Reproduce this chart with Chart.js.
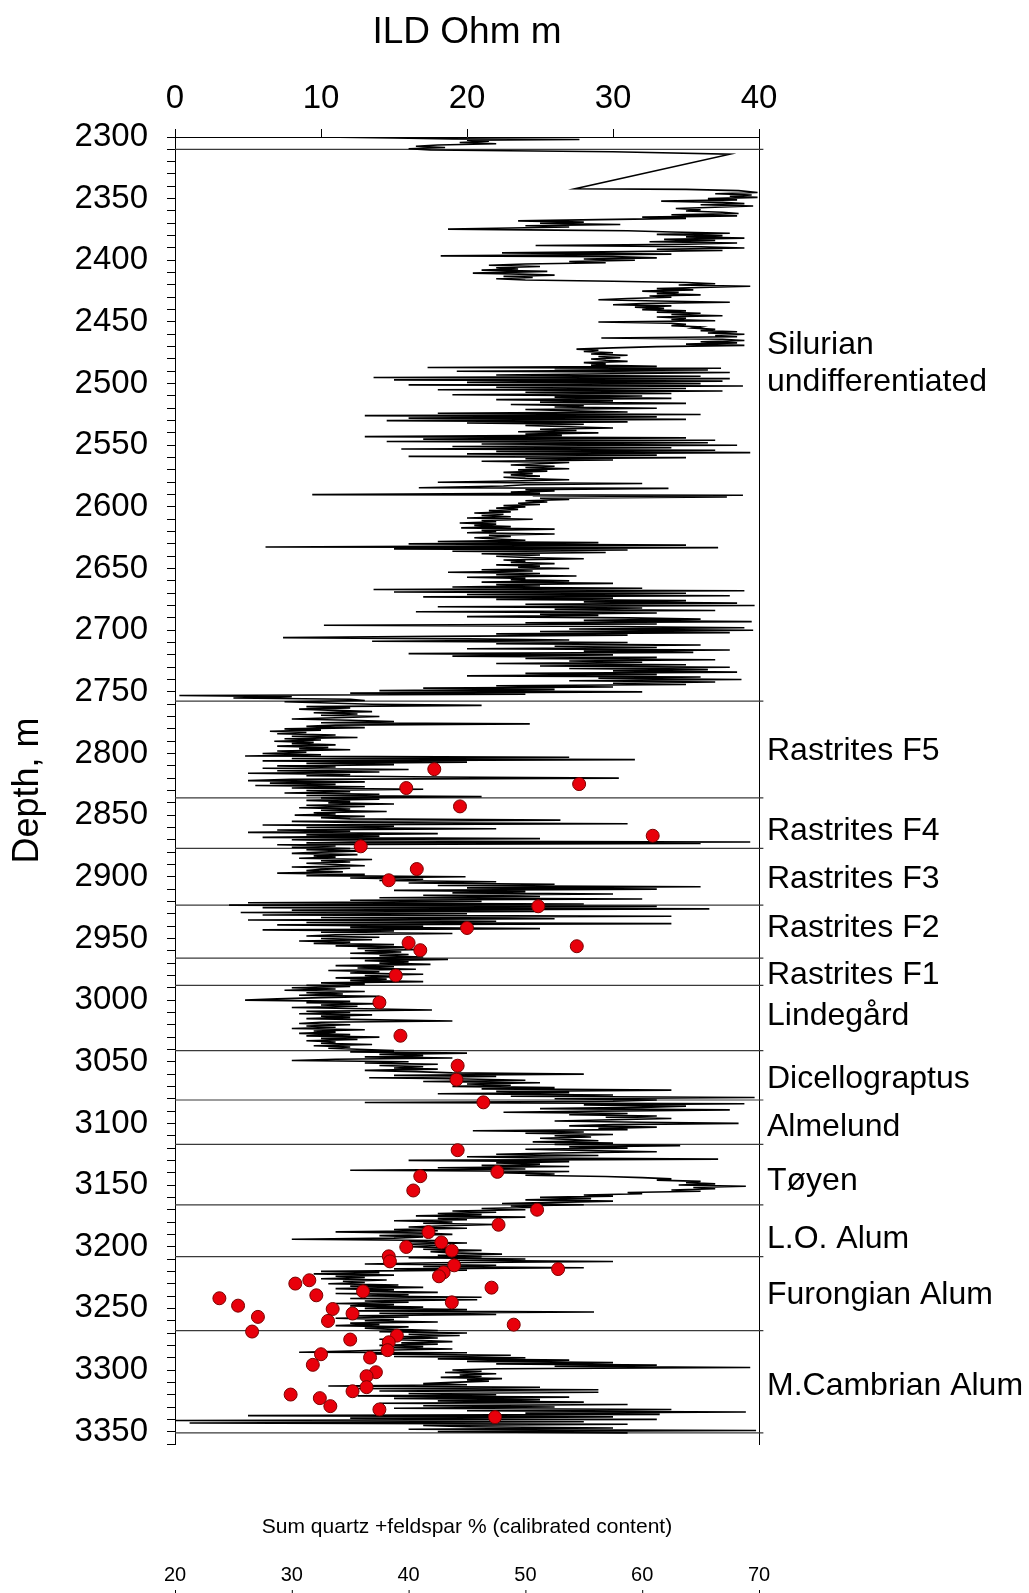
<!DOCTYPE html>
<html>
<head>
<meta charset="utf-8">
<title>ILD log and quartz + feldspar</title>
<script src="https://cdn.jsdelivr.net/npm/chart.js@4.4.1/dist/chart.umd.min.js"></script>
<style>
  html, body { margin: 0; padding: 0; background: #fff; }
  canvas { display: block; }
</style>
</head>
<body>
<canvas id="logChart" width="1029" height="1593"></canvas>
<script>
// ILD resistivity log, [depth m, ILD Ohm m]
const ildSilurian = [
  [2300,10],[2300.8,15],[2301.5,19],[2302,27.7],[2302.5,20],[2303.5,21.5],[2304.5,19.5],[2305.5,22],[2306.5,18],[2307.5,16.5],[2308.5,18.5],[2309.5,16],[2310.5,17.5],[2312,30],[2314,38],[2342,27.4],[2342.5,35],
  [2343.5,38.6],[2345,39.9],[2346,37],[2347,39.5],[2348,38],[2349,39.9],[2350,36.5],[2351,38.5],[2352,33.3],[2353,37.5],[2354,39],[2355,36],[2356,39.6],[2357,37],[2358,34.3],[2359,36],[2360,35],[2361,37.5],[2362,38.6],
  [2363,34],[2364,38.5],[2365,32],[2366,35],[2367,29],[2368,23.5],[2369,28],[2370,25],[2371,30.5],[2372,24],[2373,27],[2374,22],[2374.7,18.7],[2375.5,26],[2376,31],
  [2377,34],[2378,38],[2379,33],[2380,37.5],[2381,35],[2382,39],[2383,33.5],[2384,37],[2385,32.5],[2386,38.5],[2387,35],[2388,24.7],[2389,36],[2390,39],[2391,33],[2392,37.5],[2393,31],[2394,22.4],[2395,34],[2396.4,18.2],[2397,30],
  [2398,33],[2399,28],[2400,31.5],[2401,27],[2402,29.5],[2403,24],[2404,21.5],[2405,25],[2406,22],[2407,23.5],[2408,21],[2409,25.5],[2410.4,20.4],[2411,23],[2412,26],[2413,22.5],[2414,24.5],[2415,22],[2416,24],[2417,30],
  [2418,35],[2419,37],[2420,34.5],[2421,39.4],[2422,36],[2423,33],[2424,35.5],[2425,32],[2426,34.5],[2427,33],[2428,36],[2429,32.5],[2430,34],[2431,31],[2432,29],[2433,33],
  [2434,38],[2435,32],[2436,30],[2437,34],[2438,31.5],[2439,33.5],[2440,32],[2441,35],[2442,33],[2443,36],[2444,34],[2445,37.5],[2446,33],[2447,35],[2448,34],[2449,37],[2450,29],[2451,34],
  [2452,35],[2453,34],[2454,36],[2455,35.5],[2456,37],[2457,36],[2458,38.5],[2459,36.5],[2460,39],[2461,37],[2462,38.5],[2463,29.2],[2464,37.5],[2465,39],[2466,36],[2467,38.5],[2468,35],[2469,39],[2470,33],
  [2471,30],[2472,27.5],[2473,29],[2474,28],[2475,30],[2476,28.5],[2477,31],[2478,29],[2479,30.5],[2480,28.5],[2481,29.5],[2482,31],[2483,28],[2484,29.5],[2485,28.5],
  [2486,33],[2487,17.3],[2487.5,37.4],[2488,26],[2489,36.5],[2490,19.3],[2491,38],[2492,30],[2493,22],[2494,36],[2495,13.6],[2496,38],[2497,15],[2498,37.5],[2499,20],[2500,36],[2501,16],[2502,38.9],[2503,22],[2504,35],[2505,18],[2506,37.5],[2507,24],[2508,34],[2509,19],[2510,32],
  [2511,26],[2512,34],[2513,22],[2514,30],[2515,25],[2516,35],[2517,23],[2518,28],[2519,26],[2520,33],[2521,24],[2522,27],[2523,31],[2524,18],[2525,36],[2526,13],[2527,33],[2528,16],[2529,35],[2530,14.5],[2531,31],[2532,20],
  [2533,28],[2534,24],[2535,27],[2536,30],[2537,25],[2538,27.5],[2539,23.5],[2540,29],[2541,24],[2542,26.5],
  [2543,13],[2544,35],[2545,17],[2546,37],[2547,14.5],[2548,36.5],[2549,21],[2550,38.5],[2551,19],[2552,34],[2553,15.5],[2554,37],[2555,22],[2556,39.4],[2557,20],[2558,33],[2559,16],[2560,35],[2561,24],[2562,30],[2563,21],[2564,27],
  [2565,25],[2566,23],[2567,26],[2568,24],[2569,27],[2570,23.5],[2571,25.5],[2572,22.5],[2573,24.5],[2574,23],[2575,25],[2576,22.5],[2577,24],[2578,27],[2579,23],[2580,18],[2581,32],[2582,24],
  [2583,22.5],[2584.5,16.7],[2585,33.8],[2586,24],[2587,26],[2588,23],[2589,25],[2590,9.4],[2590.5,38.9],[2591,24.5],[2592,37.8],[2593,25],
  [2594,27],[2595,24],[2596,25.5],[2597,23.5],[2598,25],[2599,22.5],[2600,24],[2601,22],[2602,23.5],[2603,21.5],[2604,23],[2605,20.5],[2606,22.5],[2607,21],[2608,23],[2609,20],[2610,24.5],[2611,21],[2612,22],[2613,19.5],[2614,22],[2615,20.5],[2616,23],[2617,19.6],[2618,26],[2619,21],[2620,22],[2621,20],[2622,26],[2623,21.5],[2624,23],[2625,20.5],[2626,22],
  [2627,24],[2628,18],[2629,29],[2630,16],[2631,35],[2632.5,6.2],[2633,37.2],[2634,15],[2635,31],[2636,19],[2637,29.5],[2638,21],[2639,25],[2640,22],
  [2641,24],[2642,28],[2643,22.5],[2644,24],[2645,23],[2646,26],[2647,22],[2648,25],[2649,23.5],[2650,27],[2651,21],[2652,24.5],[2653,18.7],[2654,25],[2655,22],[2656,27.5],[2657,20],[2658,24],[2659,23],[2660,27],[2661,21],[2662,30],[2663,22],
  [2664,25],[2665,19],[2666,32],[2667,13.6],[2668,39],[2669,15],[2670,35],[2671,20],[2672,38],[2673,17],[2674,30],[2675,22],
  [2676,35],[2677,28],[2678,38.5],[2679,24],[2680,39.7],[2681,18],[2682,32],[2683,26],[2684,37],[2685,16.5],[2686,33],[2687,25],[2688,29],[2689,20],[2690,31],[2691,36],[2692,28],[2693,39.5],[2694,24],[2695,33],[2696,10.2],[2697,30],[2698,39],[2699,27],[2700,39.6],[2701,25],[2702,38],
  [2703,22],[2704,31],[2705,18],[2706,7.4],[2707,20],[2708,27],
  [2709,13.5],[2710,31],[2711,22],[2712,36],[2713,26],[2714,33],[2715,20],[2716,38],[2717,28],[2718,35.5],[2719,16],[2720,30],[2721,19],[2722,33],[2723,24],[2724,37],[2725,27],[2726,32],[2727,22],[2728,35],[2729,25],[2730,38],[2731,27],[2732,36.5],[2733,30],[2734,38.5],[2735,24],[2736,33],[2737,20],[2738,36],[2739,29],[2740,38.8],[2741,27],
  [2742,37],[2743,30],[2744,35],[2745,22],[2746,30],[2747,17],[2748,26],[2749,14],[2750,32],[2751,12],[2752,24],[2753,0.3],[2754,8],[2755,4],[2756,12]
];

const ildRastrites = [
  [2757,13],[2758,7.5],[2759,10.5],[2760,13.5],[2761,21],[2762,9],[2763,12],[2764,8.5],[2765,11],[2766,13.5],[2767,9.5],[2768,12.5],[2769,10],[2770,14],[2771,11],[2772,8],[2773,12],[2774,15],[2775,10],[2776,24.3],[2777,11],[2778,9],[2779,13],
  [2780,7.5],[2781,10],[2782,6.5],[2783,9],[2784,7],[2785,11],[2786,8],[2787,12.5],[2788,7.5],[2789,10],[2790,6.8],[2791,9.5],[2792,8],[2793,11],[2794,7],[2795,10.5],[2796,8.5],[2797,12],[2798,7],[2799,9],[2800,6],[2801,10],
  [2802,4.8],[2803,27],[2804,8],[2805,31.5],[2806,6],[2807,20],[2808,9],[2809,15],[2810,7],
  [2811,11],[2812,6],[2813,16],[2814,7],[2815,14],[2816,5],[2817,12],[2818,9],[2819,18],[2820,30.4],[2821,8],[2822,5],[2823,13],[2824,6.5],[2825,11],[2826,5.5],[2827,13],[2828,8],[2829,17],[2830,9],[2831,12],[2832,7.5],[2833,14],[2834,9],[2835,21],
  [2836,10],[2837,14],[2838,9],[2839,12],[2840,10.5],[2841,15],[2842,9],[2843,13],[2844,8.5],[2845,12],[2846,10],[2847,14.5],[2848,9.5],[2849,11],[2850,8.2],[2851,13],[2852,10],[2853,12],
  [2854,26.4],[2855,8],[2856,12],[2857,31],[2858,6],[2859,15],[2860,9],[2861,22],[2862,7],[2863,12],[2864,5],[2865,18],[2866,9],[2867,14],[2868,6],[2869,25],[2870,8],[2871,12],[2871.8,39.4],[2872.5,9],[2873,36],[2874,7],[2875,11],
  [2876,8],[2877,12],[2878,9],[2879,13],[2880,10],[2881,8],[2882,12.5],[2883,9.5],[2884,11],[2885,8.5],[2886,13.5],[2887,10],[2888,12],[2889,9],[2890,11],[2891,13],[2892,8],[2893,12],[2894,10],[2895,9],[2896,11.5],[2897,7],[2898,13],[2899,9],[2900,19.9],
  [2901,12],[2902,17],[2903,14],[2904,22],[2905,16],[2906,26],[2907,18],[2908,36],[2909,20],[2910,33],[2911,15],[2912,24],[2913,19],[2914,30],[2915,17],[2916,25],[2917,14],[2918,32],[2919,12],[2920,21],
  [2921,5],[2922,28],[2923,3.7],[2924,33],[2925,6],[2926,36.6],[2927,8],[2928,25],[2929,4.5],
  [2930,20],[2931,6],[2932,34],[2933,10],[2934,26],[2935,5],[2936,22],[2937,9],[2938,34],[2939,7],[2940,17],[2941,12],[2942,25],[2943,6],[2944,15],[2945,10],[2946,19],
  [2947,11],[2948,9],[2949,14],[2950,10],[2951,13.5],[2952,8.5],[2953,12],[2954,9.5],[2955,15],[2956,11],[2957,16],[2958,12.5],[2959,17],[2960,13],[2961,15.5],[2962,12],[2963,16],[2964,14],
  [2965,17],[2966,12],[2967,18.7],[2968,13],[2969,16],[2970,14],[2971,17.5],[2972,11],[2973,15],[2974,12.5],[2975,16.5],[2976,10.5],[2977,14],[2978,12],[2979,17],[2980,13],[2981,15.5],[2982,11],[2983,14.5],[2984,12],[2985,17],[2986,10],[2987,13]
];

const ildOrdovician = [
  [2988,9],[2989,12],[2990,8],[2991,11],[2992,7.5],[2993,13],[2994,9],[2995,11.5],[2996,8.5],[2997,14],[2998,10],[2999,7],[3000,4.8],[3001,12],[3002,9],[3003,14],[3004,10],[3005,12.5],[3006,8],[3007,13],[3008,17.6],[3009,9],[3010,12],
  [3011,8.5],[3012,13.5],[3013,10],[3014,12],[3015,9],[3016,14],[3017,19],[3018,10],[3019,8.5],[3020,12],[3021,9],[3022,11],[3023,8],[3024,13],[3025,9.5],[3026,11],[3027,8.5],[3028,12],[3029,9],[3030,14],
  [3031,10],[3032,12.5],[3033,9],[3034,11],[3035,10],[3036,13.5],[3037,9.5],[3038,12],[3039,10.5],[3040,13],
  [3041,15],[3042,12],[3043,20],[3044,14],[3045,17],[3046,13],[3047,19],[3048,11],[3049,8],[3050,16],[3051,13],[3052,18],[3053,14],[3054,17],[3055,15],[3056,18],[3057,13],[3058,16.5],[3059,19],
  [3060,28],[3061,15],[3062,22],[3063,13.3],[3064,20],[3065,24],[3066,17],[3067,25],[3068,20],[3069,23],[3070,19],[3071,26],[3072,21],[3073,34],[3074,22],[3075,27],
  [3076,18],[3077,30],[3078,23],[3079,39.7],[3080,26],[3081,33],[3082,30],[3083,13],[3084,39],[3085,28],[3086,35],[3087,32],[3088,25],[3089,38],
  [3090,29],[3091,22.5],[3092,31],[3093,27],[3094,33],[3095,29.5],[3096,34],[3097,30],[3098,26],[3099,32],[3100,38.6],[3101,30],[3102,27],[3103,33],[3104,29],[3105,31],[3106,20.4],[3107,28],[3108,24],[3109,30],[3110,26],[3111,28.5],[3112,25],[3113,27],
  [3114,29],[3115,24.5],[3116,30],[3117,26],[3118,34.6],[3119,27],[3120,31],[3121,24],[3122,28],[3123,33],
  [3124,26],[3125,22],[3126,29],[3127,20],[3128,25],[3129,37.2],[3130,16],[3131,27],[3132,22],[3133,25],[3134,21],[3135,27],[3136,18],[3137,24],[3138,12],[3139,27],[3140,22],[3141,26],[3142,24],
  [3143,29.5],[3144,32],[3145,34],[3146,33],[3147,36],[3148,35],[3149,37],[3150,34.5],[3151,39.1],[3152,35.5],[3153,37],[3154,34],[3155,36],[3156,31],
  [3157,32],[3158,28],[3159,30],[3160,25],[3161,28.5],[3162,24],[3163,30],[3164,26],[3165,22.4],[3166,28]
];

const ildCambrian = [
  [3167,23],[3168,25],[3169,21],[3170,24],[3171,19],[3172,22],[3173,18],[3174,21],[3175,16.5],[3176,24],[3177,18],[3178,20],[3179,15],[3180,19],[3181,17],[3182,22],[3183,18.5],[3184,16],[3185,20],[3186,15],[3187,18],[3188,11],[3189,17],
  [3190,19],[3191,14],[3192,17],[3193,15],[3194,8],[3195,18],[3196,16],[3197,20],[3198,15.5],[3199,18],[3200,16],[3201,19],[3202,17],[3203,21],[3204,17.5],[3205,19],[3206,22.4],[3207,18],
  [3208,21],[3209,16],[3210,24],[3211,19],[3212,30],[3213,18],[3214,13],[3215,22],[3216,17],[3217,28],[3218,15],[3219,20],
  [3220,10],[3221,14],[3222,9.5],[3223,15],[3224,11],[3225,13],[3226,10],[3227,14.5],[3228,11.5],[3229,13],[3230,10.5],[3231,15.3],
  [3232,12],[3233,17],[3234,11],[3235,15],[3236,12.5],[3237,18],[3238,11],[3239,16],[3240,13],[3241,21],[3242,12],
  [3243,20.7],[3244,13],[3245,16],[3246,11],[3247,15],[3248,12],[3249,17],[3250,13],[3251,20],[3252,12.5],[3253,28.7],[3254,14],[3255,22],[3256,12],[3257,16],[3258,11],[3259,15],[3260,13],[3261,18],[3262,12],[3263,14],[3264,11],[3265,16],[3266,13],
  [3267,15],[3268,18],[3269,14],[3270,20],[3271,16],[3272,19.5],[3273,15],[3274,18],[3275,14],[3276,17],[3277,19],[3278,15.5],[3279,18],[3280,14],[3281,17],[3282,15],
  [3283,19],[3284,14],[3285.6,8.5],[3286,20],[3287,13],[3288,23],[3289,15],[3290,24],[3291,18],[3292,27],[3293,20],[3294,30],[3295,22],[3296,33],[3297,26],[3298,39.4],[3299,22],
  [3300,19],[3301,21],[3302,18.5],[3303,22],[3304,19.5],[3305,21],[3306,18.2],[3307,22.4],[3308,20],[3309,21.5],[3310,19],[3311,17],[3312,20],
  [3313,10.5],[3314,25],[3315,12],[3316,29],[3317,14],[3318,29],[3319,16],[3320,22],[3321,12.5],[3322,27],[3323,15],[3324,25],[3325,18],[3326,28],[3327,14],[3328,31],[3329,17],[3330,26],[3331,15],[3332,34],[3333,20],[3334,39.1],[3335,24],
  [3336,33.2],[3337,5],[3338,30],[3339,12],[3340,33],[3341,0],[3342,28],[3343,1],[3344,31],[3345,17],[3346,20],[3347,30],[3348,16],[3349,39.8],[3350,18],[3351,31]
];

// quartz + feldspar samples (red dots)
const sampleDepth = [2812.7, 2824.8, 2828, 2842.9, 2866.7, 2875.3, 2893.7, 2902.8, 2923.9, 2941.5, 2953.6, 2956.3, 2959.5, 2980,
  3001.9, 3028.9, 3053.2, 3064.5, 3082.9, 3121.7, 3139.3, 3142.8, 3154.4, 3170, 3182.2, 3188.1, 3196.5, 3200.2, 3203.2,
  3207.8, 3211.9, 3215.1, 3218.1, 3220.8, 3224, 3227.2, 3229.9, 3233.2, 3236.2, 3239.4, 3241.8, 3245.1, 3247.8, 3250.5,
  3254.2, 3256.9, 3260.2, 3263.2, 3268.8, 3272.1, 3275.3, 3277.5, 3283.9, 3287.2, 3289.9, 3295.8, 3301.8, 3305, 3313.9,
  3317.2, 3319.9, 3322.8, 3329.3, 3332, 3338.2];
const quartzFeldspar = [42.2, 54.6, 39.8, 44.4, 60.9, 35.9, 40.7, 38.3, 51.1, 45.0, 40.0, 54.4, 41.0, 38.9,
  37.5, 39.3, 44.2, 44.1, 46.4, 44.2, 47.6, 41.0, 40.4, 51.0, 47.7, 41.7, 42.8, 39.8, 43.7,
  38.3, 38.4, 43.9, 52.8, 43.0, 42.6, 31.5, 30.3, 47.1, 36.1, 32.1, 23.8, 43.7, 25.4, 33.5,
  35.2, 27.1, 33.1, 49.0, 26.6, 39.0, 35.0, 38.3, 38.2, 32.5, 36.7, 31.8, 37.2, 36.4, 36.4,
  35.2, 29.9, 32.4, 33.3, 37.5, 47.4];

// formation tops and names
const boundaryDepths = [2310, 2757.5, 2836, 2877, 2923, 2966, 2988, 3041, 3081, 3117, 3166, 3208, 3268, 3351];
const formationNames = ['Silurian\nundifferentiated', 'Rastrites F5', 'Rastrites F4', 'Rastrites F3', 'Rastrites F2',
  'Rastrites F1', 'Lindegård', 'Dicellograptus', 'Almelund', 'Tøyen', 'L.O. Alum', 'Furongian Alum', 'M.Cambrian Alum'];
const labelDepths = [2484, 2798, 2863, 2902, 2942, 2980, 3013, 3064, 3103, 3147, 3194, 3239, 3313];

const ildTicks = [0, 10, 20, 30, 40];
const quartzTicks = [20, 30, 40, 50, 60, 70];

const FONT = '"Liberation Sans", Arial, sans-serif';
Chart.defaults.font.family = FONT;
Chart.defaults.color = '#000';

const traceData = ildSilurian.concat(ildRastrites, ildOrdovician, ildCambrian).map(([d, v]) => ({x: v, y: d}));
const dotData = sampleDepth.map((d, i) => ({x: quartzFeldspar[i], y: d}));

const boundarySets = boundaryDepths.map(d => ({
    data: [{x: 0, y: d}, {x: 40.3, y: d}],
    xAxisID: 'x',
    showLine: true,
    borderColor: '#3a3a3a',
    borderWidth: 1.2,
    pointRadius: 0,
    clip: false,
    order: 2
}));

// formation names at the right, and the quartz axis drawn under the plot
const overlay = {
    id: 'overlay',
    afterDraw(chart) {
        const ctx = chart.ctx;
        const y = chart.scales.y;
        const xq = chart.scales.xq;
        ctx.save();
        ctx.fillStyle = '#000';
        ctx.strokeStyle = '#000';
        ctx.lineWidth = 1;
        ctx.font = '32px ' + FONT;
        ctx.textAlign = 'left';
        ctx.textBaseline = 'middle';
        formationNames.forEach((name, i) => {
            const lines = name.split('\n');
            const yc = y.getPixelForValue(labelDepths[i]);
            lines.forEach((ln, j) => {
                ctx.fillText(ln, chart.chartArea.right + 8, yc + (j - (lines.length - 1) / 2) * 37);
            });
        });

        ctx.textAlign = 'center';
        ctx.font = '21px ' + FONT;
        ctx.fillText('Sum quartz +feldspar % (calibrated content)', (xq.left + xq.right) / 2, 1527);
        ctx.font = '20px ' + FONT;
        quartzTicks.forEach(v => {
            const px = xq.getPixelForValue(v);
            ctx.fillText(String(v), px, 1575);
            ctx.beginPath();
            ctx.moveTo(px + 0.5, 1590);
            ctx.lineTo(px + 0.5, 1600);
            ctx.stroke();
        });
        ctx.restore();
    }
};

new Chart(document.getElementById('logChart'), {
    type: 'scatter',
    data: {
        datasets: [
            {
                label: 'Quartz + feldspar',
                data: dotData,
                xAxisID: 'xq',
                pointRadius: 6.5,
                pointBackgroundColor: '#e8000b',
                pointBorderColor: '#7a0000',
                pointBorderWidth: 1,
                order: 0
            },
            {
                label: 'ILD',
                data: traceData,
                xAxisID: 'x',
                showLine: true,
                borderColor: '#000',
                borderWidth: 1.6,
                pointRadius: 0,
                order: 1
            },
            ...boundarySets
        ]
    },
    options: {
        responsive: false,
        animation: false,
        events: [],
        layout: { padding: { left: 0, top: 0, right: 270, bottom: 149 } },
        plugins: { legend: { display: false }, tooltip: { enabled: false } },
        scales: {
            x: {
                type: 'linear',
                position: 'top',
                min: 0,
                max: 40,
                afterBuildTicks: s => { s.ticks = ildTicks.map(v => ({value: v})); },
                ticks: { font: { size: 33 }, padding: 10, color: '#000' },
                grid: { drawOnChartArea: false, tickLength: 8, color: '#000' },
                border: { color: '#000', width: 1 },
                title: { display: true, text: 'ILD Ohm m', font: { size: 37 }, padding: { top: 11, bottom: 0 } },
                afterFit: s => { s.height = 137; }
            },
            xq: {
                type: 'linear',
                position: 'bottom',
                min: 20,
                max: 70,
                display: false
            },
            y: {
                type: 'linear',
                position: 'left',
                reverse: true,
                min: 2300,
                max: 3360,
                ticks: {
                    stepSize: 10,
                    autoSkip: false,
                    font: { size: 33 },
                    padding: 19,
                    color: '#000',
                    callback: v => (v % 50 === 0 ? String(v) : '')
                },
                grid: { drawOnChartArea: false, tickLength: 8, color: '#000' },
                border: { color: '#000', width: 1 },
                title: { display: true, text: 'Depth, m', font: { size: 36 }, padding: { top: 6, bottom: 0 } },
                afterFit: s => { s.width = 175; }
            },
            yr: {
                type: 'linear',
                position: 'right',
                reverse: true,
                min: 2300,
                max: 3360,
                ticks: { display: false },
                grid: { drawOnChartArea: false, drawTicks: false },
                border: { color: '#000', width: 1 },
                afterFit: s => { s.width = 0; }
            }
        }
    },
    plugins: [overlay]
});
</script>
</body>
</html>
